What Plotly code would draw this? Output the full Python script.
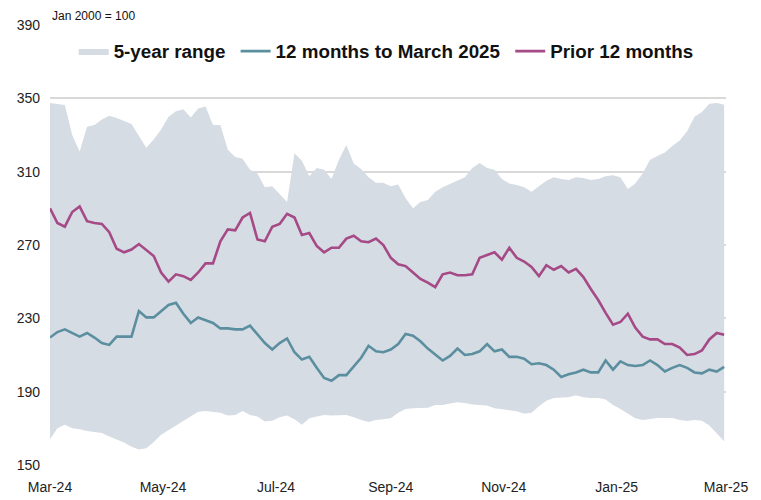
import pandas as pd
import plotly.graph_objects as go

start_date = "2024-03-01"
step = "4D"

prior_12m = [
    290, 282, 280, 288, 291, 283, 282, 281.5, 277, 268,
    266, 267.5, 270.5, 267.5, 264, 255, 250, 254, 253, 251,
    255, 260, 260, 272, 278.5, 278, 285, 287.5, 273, 272,
    280, 281.5, 287, 285, 275.5, 276.5, 269.5, 266, 268.5, 268.5,
    273.5, 275, 272, 271.5, 273.5, 270, 263, 259.5, 258.5, 255,
    251.5, 249.5, 247, 254, 255, 253.5, 253.5, 254, 263, 264.5,
    266, 262, 268.5, 263, 261, 258, 253, 259, 256.5, 258.5,
    255, 257, 252.5, 246, 240, 233, 226.5, 228, 232.5, 225,
    220, 218.5, 218.5, 216, 216, 214, 210, 210.5, 212.5, 218.5,
    222, 221,
]

last_12m = [
    219.5, 222.5, 224, 222, 220, 222, 219.5, 216.5, 215.5, 220,
    220, 220, 234, 230.5, 230.5, 234, 237.3, 238.5, 232.5, 227.5,
    230.5, 229, 227.5, 224.5, 224.5, 224, 224, 226, 221.5, 216.5,
    213, 216.5, 219, 211.5, 207.5, 209, 203, 197.5, 196, 199,
    199, 203.5, 208.5, 215, 212, 211.5, 213, 216, 221.5, 220.5,
    217.5, 213.5, 210, 207, 209.5, 213.5, 210, 210.5, 212, 216,
    212, 213, 209, 209, 208, 205, 205.5, 204.5, 202, 198,
    199.5, 200.5, 202, 200.5, 200.5, 207, 202, 206.5, 204.5, 204,
    204.5, 207, 204.5, 201, 203, 204.5, 203, 200.5, 200, 202,
    201, 203.5,
]

range_high = [
    347.5, 347, 346.4, 330, 321, 334.5, 335.5, 338.5, 340.5, 339.3,
    337.5, 336, 329.5, 323, 327.5, 333, 340, 343, 344, 339.5,
    344.5, 345.5, 335.5, 335.5, 322, 318, 317, 311, 309, 301.5,
    302, 298, 293.5, 320, 316, 307.5, 312, 311, 306, 316.5,
    324.5, 314.5, 311.5, 307, 304, 304, 302, 303, 295.5, 290,
    293.5, 294.5, 299, 301.5, 303.3, 305.5, 307, 312, 314.7, 312,
    311, 306, 303.5, 302.7, 301.5, 299, 302, 305, 307, 306,
    305.5, 307, 306.5, 305.5, 306, 307.5, 308, 307, 300.5, 303.5,
    309, 316.5, 318.5, 320.5, 324, 327, 332, 340, 342.5, 347,
    347.5, 346.5,
]

range_low = [
    164, 170, 172, 170, 169.5, 168.5, 168, 167.5, 165.5, 164,
    162.3, 160, 158.5, 159.2, 162.5, 166.5, 169, 171.2, 174, 176.5,
    179, 179.5, 178.8, 178.5, 177, 177.3, 179.5, 177.3, 176.5, 173.7,
    174.2, 176, 177, 175, 172, 175.5, 176.5, 177.3, 177, 177.3,
    177.3, 176, 174.5, 173.5, 174.5, 175, 175.5, 178.5, 180.5, 181,
    181, 181.2, 182.7, 182.7, 183.5, 184.2, 183.8, 183, 182.7, 182.5,
    181, 180.3, 180, 179.3, 178, 178.5, 182, 185, 186.5, 186.8,
    187, 188, 187, 186.5, 186.5, 185.7, 182.7, 180.5, 178, 175.5,
    174.5, 175, 175.6, 175.6, 175.6, 174.5, 174, 174.5, 174.2, 171.5,
    167, 163,
]

y_ticks = [150, 190, 230, 270, 310, 350, 390]

dates = pd.date_range(start_date, periods=len(prior_12m), freq=step)

FILL = "#d6dce4"
TEAL = "#5b8fa0"
PINK = "#a54a86"
FONT = "Liberation Sans, Arial, sans-serif"
GAP = "\u00a0"

fig = go.Figure()
fig.add_trace(go.Scatter(
    x=dates, y=range_low, mode="lines", line=dict(width=0, color=FILL),
    showlegend=False, hoverinfo="skip",
))
fig.add_trace(go.Scatter(
    x=dates, y=range_high, mode="lines", line=dict(width=0, color=FILL),
    fill="tonexty", fillcolor=FILL, name="5-year range" + GAP,
))
fig.add_trace(go.Scatter(
    x=dates, y=last_12m, mode="lines", line=dict(width=2.6, color=TEAL),
    name="12 months to March 2025" + GAP,
))
fig.add_trace(go.Scatter(
    x=dates, y=prior_12m, mode="lines", line=dict(width=2.6, color=PINK),
    name="Prior 12 months",
))

fig.update_layout(
    width=753, height=492,
    margin=dict(l=42, r=35, t=17, b=35, autoexpand=False),
    paper_bgcolor="white", plot_bgcolor="white",
    font=dict(family=FONT, size=14, color="#222222"),
    legend=dict(
        orientation="h", x=0.035, xanchor="left", y=0.94, yanchor="middle",
        font=dict(family=FONT, size=18.8, color="#111111", weight="bold"),
        bgcolor="rgba(0,0,0,0)", itemwidth=30, traceorder="normal",
    ),
    xaxis=dict(
        type="date", range=["2024-03-01", "2025-03-01"],
        tick0="2024-03-01", dtick="M2", tickformat="%b-%y",
        showgrid=False, zeroline=False, showline=False, ticks="",
        ticklabelstandoff=12, automargin=False,
        tickfont=dict(size=14, color="#222222"),
    ),
    yaxis=dict(
        range=[150, 390], tickvals=y_ticks, showgrid=True,
        gridcolor="#d9d9d9", gridwidth=1.5, zeroline=False, showline=False,
        ticks="", ticklabelstandoff=9, automargin=False,
        tickfont=dict(size=14, color="#222222"),
    ),
    annotations=[dict(
        text="Jan 2000 = 100", xref="paper", yref="paper", x=0, y=1,
        xanchor="left", yanchor="bottom", showarrow=False,
        font=dict(family=FONT, size=12, color="#111111"),
    )],
)

fig.write_html("out.html")
